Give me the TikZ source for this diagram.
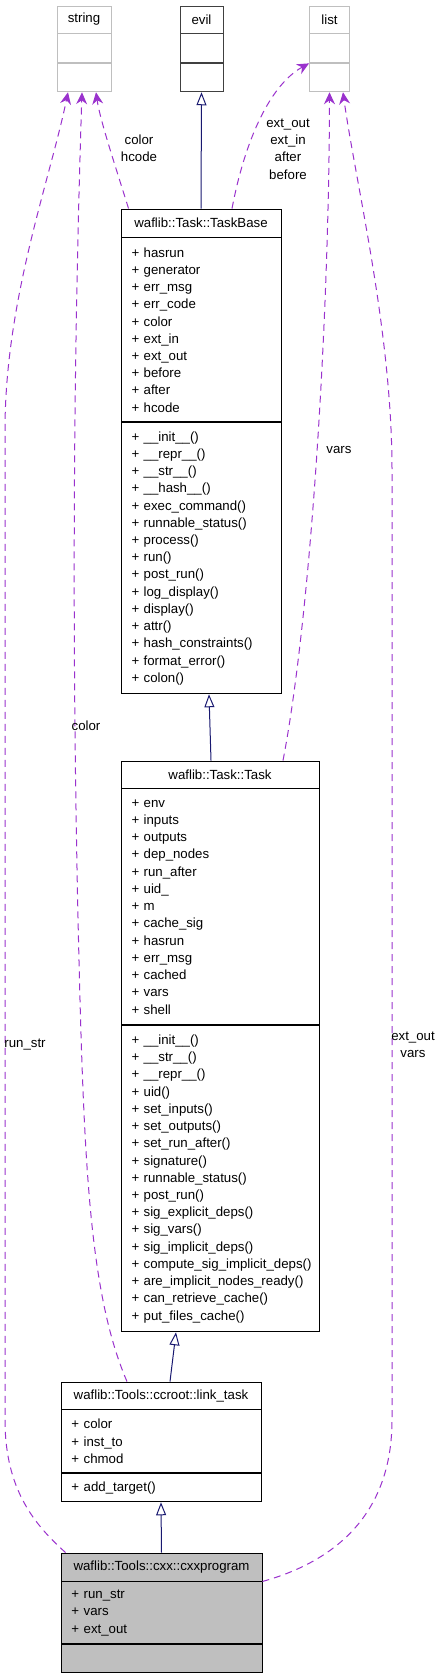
\documentclass[tikz,border=0pt]{standalone}
\usepackage{fontspec}
\setmainfont{Liberation Sans}
\usetikzlibrary{positioning,arrows.meta}

\definecolor{navyline}{RGB}{25,25,112}
\definecolor{purpleline}{RGB}{154,50,205}
\definecolor{extgray}{RGB}{191,191,191}
\newcommand{\classfont}{\fontsize{13.3}{17.3}\selectfont\hyphenpenalty=10000\relax}

\tikzset{
  classbox/.style={draw=black, line width=0.9bp, inner sep=0pt, font=\classfont},
  classtitle/.style={classbox, align=center},
  classpart/.style={classbox, inner xsep=10.5bp, align=left},
  extbox/.style={draw=extgray, line width=0.9bp, inner sep=0pt, font=\classfont},
  inherit/.style={draw=navyline, line width=1bp, -{Triangle[open, length=13bp, width=10bp]}},
  uses/.style={draw=purpleline, line width=1bp, dash pattern=on 7bp off 5bp,
    -{Stealth[length=12bp, width=11bp, inset=4bp]}},
  edgelabel/.style={font=\classfont, align=center, inner sep=0pt}
}

\begin{document}
\begin{tikzpicture}[x=1bp, y=-1bp]
  \useasboundingbox (0,0) rectangle (441,1677);

  % external classes
  \node[extbox, minimum width=54bp, minimum height=27bp] (string) at (84,19.5) {string};
  \node[extbox, minimum width=54bp, minimum height=29bp, below=0pt of string] (stringattr) {};
  \node[extbox, minimum width=54bp, minimum height=28bp, below=0pt of stringattr] (stringops) {};

  \node[extbox, draw=black!75, minimum width=43bp, minimum height=27bp] (evil) at (201.5,19.5) {evil};
  \node[extbox, draw=black!75, minimum width=43bp, minimum height=29bp, below=0pt of evil] (evilattr) {};
  \node[extbox, draw=black!75, minimum width=43bp, minimum height=28bp, below=0pt of evilattr] (evilops) {};

  \node[extbox, minimum width=40bp, minimum height=27bp] (list) at (329.5,19.5) {list};
  \node[extbox, minimum width=40bp, minimum height=29bp, below=0pt of list] (listattr) {};
  \node[extbox, minimum width=40bp, minimum height=28bp, below=0pt of listattr] (listops) {};

  % waflib::Task::TaskBase
  \node[classtitle, minimum width=160bp, minimum height=28bp] (taskbase) at (201,223) {waflib::Task::TaskBase};
  \node[classpart, text width=139bp, minimum height=184bp, below=0pt of taskbase] (taskbaseattr)
    {+ hasrun\\+ generator\\+ err\_msg\\+ err\_code\\+ color\\+ ext\_in\\+ ext\_out\\+ before\\+ after\\+ hcode};
  \node[classpart, text width=139bp, minimum height=271bp, below=0pt of taskbaseattr] (taskbaseops)
    {+ \_\_init\_\_()\\+ \_\_repr\_\_()\\+ \_\_str\_\_()\\+ \_\_hash\_\_()\\+ exec\_command()\\+ runnable\_status()\\+ process()\\+ run()\\+ post\_run()\\+ log\_display()\\+ display()\\+ attr()\\+ hash\_constraints()\\+ format\_error()\\+ colon()};

  % waflib::Task::Task
  \node[classtitle, minimum width=198bp, minimum height=27bp] (task) at (220,774.5) {waflib::Task::Task};
  \node[classpart, text width=177bp, minimum height=236bp, below=0pt of task] (taskattr)
    {+ env\\+ inputs\\+ outputs\\+ dep\_nodes\\+ run\_after\\+ uid\_\\+ m\\+ cache\_sig\\+ hasrun\\+ err\_msg\\+ cached\\+ vars\\+ shell};
  \node[classpart, text width=177bp, minimum height=306bp, below=0pt of taskattr] (taskops)
    {+ \_\_init\_\_()\\+ \_\_str\_\_()\\+ \_\_repr\_\_()\\+ uid()\\+ set\_inputs()\\+ set\_outputs()\\+ set\_run\_after()\\+ signature()\\+ runnable\_status()\\+ post\_run()\\+ sig\_explicit\_deps()\\+ sig\_vars()\\+ sig\_implicit\_deps()\\+~compute\_sig\_implicit\_deps()\\+~are\_implicit\_nodes\_ready()\\+ can\_retrieve\_cache()\\+ put\_files\_cache()};

  % waflib::Tools::ccroot::link_task
  \node[classtitle, minimum width=200bp, minimum height=27bp] (linktask) at (161,1395.5) {waflib::Tools::ccroot::link\_task};
  \node[classpart, text width=179bp, minimum height=63bp, below=0pt of linktask] (linktaskattr)
    {+ color\\+ inst\_to\\+ chmod};
  \node[classpart, text width=179bp, minimum height=28bp, below=0pt of linktaskattr] (linktaskops)
    {+ add\_target()};

  % waflib::Tools::cxx::cxxprogram
  \node[classtitle, fill=extgray, minimum width=201bp, minimum height=28bp] (cxx) at (161.5,1567) {waflib::Tools::cxx::cxxprogram};
  \node[classpart, fill=extgray, text width=180bp, minimum height=62bp, below=0pt of cxx] (cxxattr)
    {+ run\_str\\+ vars\\+ ext\_out};
  \node[classpart, fill=extgray, text width=180bp, minimum height=28bp, below=0pt of cxxattr] (cxxops) {};

  % inheritance
  \draw[inherit] (taskbase.north) -- (evilops.south);
  \draw[inherit] ([xshift=-9bp]task.north) -- ([xshift=8bp]taskbaseops.south);
  \draw[inherit] ([xshift=9bp]linktask.north) -- ([xshift=-44bp]taskops.south);
  \draw[inherit] (cxx.north) -- (linktaskops.south);

  % usage
  \draw[uses] ([xshift=8bp]taskbase.north west) .. controls (115,165) and (100,120) .. ([xshift=12bp]stringops.south);
  \draw[uses] ([xshift=31bp]taskbase.north) .. controls (245,140) and (270,85) .. (listattr.south west);
  \draw[uses] ([xshift=63bp]task.north) .. controls (310,620) and (329,330) .. (listops.south);
  \draw[uses] ([xshift=-34bp]linktask.north) .. controls (92,1300) and (85,1180) .. (80,1000)
    .. controls (72,700) and (72,400) .. ([xshift=-2bp]stringops.south);
  \draw[uses] ([xshift=5bp]cxx.north west) .. controls (35,1525) and (5,1490) .. (5,1420) -- (5,430)
    .. controls (5,300) and (50,180) .. ([xshift=-16bp]stringops.south);
  \draw[uses] (cxxattr.north east) .. controls (340,1560) and (392,1510) .. (392,1420) -- (392,470)
    .. controls (392,330) and (355,180) .. ([xshift=13.5bp]listops.south);

  % edge labels
  \node[edgelabel] (lblhcode) at (139,148) {color\\hcode};
  \node[edgelabel] (lblext) at (288,149) {ext\_out\\ext\_in\\after\\before};
  \node[edgelabel] (lblvars) at (339,450) {vars};
  \node[edgelabel] (lblcolor) at (86,726) {color};
  \node[edgelabel] (lblrunstr) at (25,1045) {run\_str};
  \node[edgelabel] (lblextvars) at (413,1045) {ext\_out\\vars};
\end{tikzpicture}
\end{document}
